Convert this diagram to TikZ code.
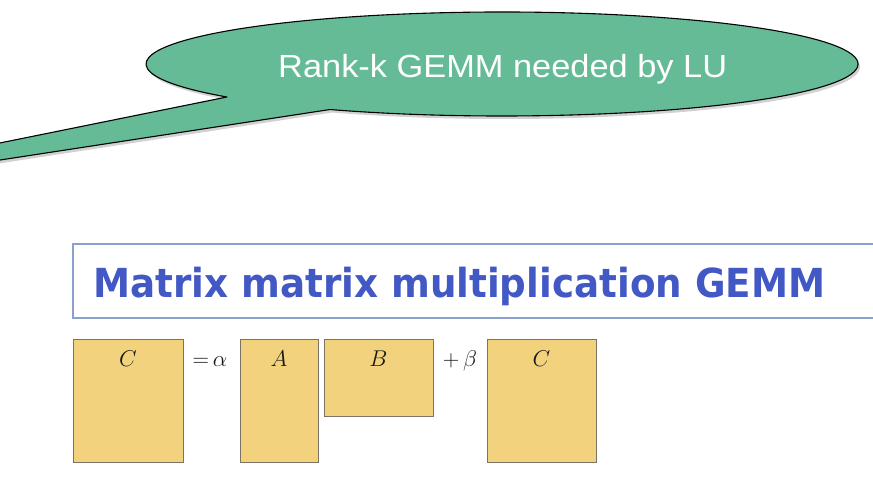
\documentclass[tikz,border=0pt]{standalone}
\usepackage{fontspec}
\usepackage{graphicx}
\newfontfamily\calloutfont{Liberation Sans}
\newfontfamily\titlefont{DejaVu Sans}
\usetikzlibrary{shadows}
\definecolor{callgreen}{RGB}{100,187,150}
\definecolor{titleblue}{RGB}{66,88,196}
\definecolor{boxborder}{RGB}{140,160,205}
\definecolor{matfill}{RGB}{242,210,124}
\definecolor{matborder}{RGB}{125,115,100}
\begin{document}
\begin{tikzpicture}[x=1pt,y=1pt,
  callout/.style={draw=black, line width=1.1pt, fill=callgreen, line join=round,
    drop shadow={shadow xshift=2pt, shadow yshift=-3pt, opacity=0.3, fill=black!60}},
  titlebox/.style={draw=boxborder, line width=1.4pt, fill=white},
  matbox/.style={draw=matborder, fill=matfill, line width=1.1pt, inner sep=0, anchor=north west},
  matlabel/.style={font=\fontsize{20.74}{25}\selectfont, anchor=base, inner sep=0, text=black!90, scale=1.1}]
\useasboundingbox (0,0) rectangle (873,492);
\clip (0,0) rectangle (873,492);
% callout
\coordinate (ec) at (502,428);
\coordinate (tipU) at (-20,345);
\coordinate (tipL) at (-20,328.9);
\draw[callout] (ec) ++(241.1:356pt and 52pt) coordinate (la)
  arc[start angle=241.1, end angle=579.4, x radius=356pt, y radius=52pt] coordinate (ua)
  -- (tipU) -- (tipL) -- cycle;
\node[anchor=base west, inner sep=0, text=white] (calltext) at (278,414)
  {\resizebox{449pt}{\height}{\calloutfont\fontsize{32}{38}\selectfont Rank-k GEMM needed by LU}};
% title box
\draw[titlebox] (73,174) rectangle (900,248);
\node[anchor=base west, inner sep=0, text=titleblue] (title) at (93,194)
  {\resizebox{732pt}{\height}{\titlefont\bfseries\fontsize{40}{48}\selectfont Matrix matrix multiplication GEMM}};
% matrices
\node[matbox, minimum width=110pt, minimum height=123pt] (C1) at (73,153) {};
\node[matbox, minimum width=78pt, minimum height=123pt] (A) at (240,153) {};
\node[matbox, minimum width=109pt, minimum height=77pt] (B) at (324,153) {};
\node[matbox, minimum width=109pt, minimum height=123pt] (C2) at (487,153) {};
\node[matlabel] (lC1) at (128,125) {$C$};
\node[matlabel] (lA) at (279,125) {$A$};
\node[matlabel] (lB) at (378.5,125) {$B$};
\node[matlabel] (lC2) at (541.5,125) {$C$};
\node[matlabel] (eqa) at (210,125) {${=}\,\alpha$};
\node[matlabel] (plb) at (460,125) {$+\,\beta$};
\end{tikzpicture}
\end{document}
